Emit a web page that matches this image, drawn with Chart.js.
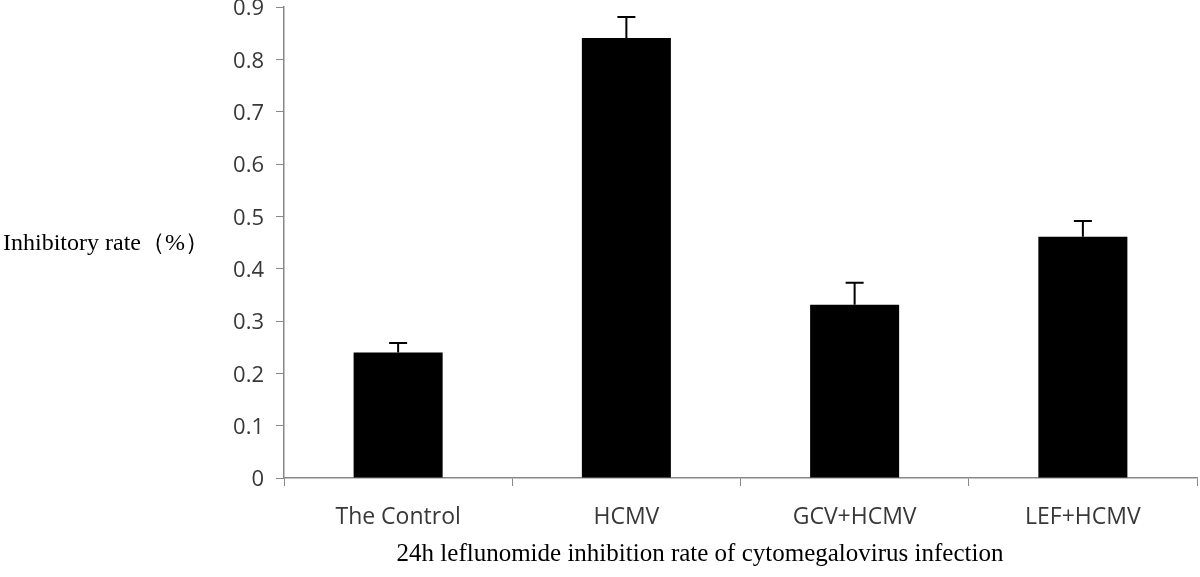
<!DOCTYPE html>
<html><head><meta charset="utf-8">
<script src="https://cdn.jsdelivr.net/npm/chart.js@4/dist/chart.umd.min.js"></script>
<style>html,body{margin:0;padding:0;background:#fff}#wrap{width:1200px;height:577px}</style>
</head><body><div id="wrap"><canvas id="c"></canvas></div>
<script>
const categories = ["The Control", "HCMV", "GCV+HCMV", "LEF+HCMV"];
const values = [0.24, 0.841, 0.331, 0.461];
const errors = [0.018, 0.04, 0.042, 0.03];
const yTicks = [0, 0.1, 0.2, 0.3, 0.4, 0.5, 0.6, 0.7, 0.8, 0.9];
const yTitle = "Inhibitory rate（%）";
const xTitle = "24h leflunomide inhibition rate of cytomegalovirus infection";

const errPlugin = {
  id: 'err',
  afterDatasetsDraw(chart) {
    const ctx = chart.ctx, meta = chart.getDatasetMeta(0), ys = chart.scales.y;
    ctx.save();
    ctx.strokeStyle = '#000'; ctx.lineWidth = 2;
    meta.data.forEach((bar, i) => {
      const top = ys.getPixelForValue(values[i]);
      const e = ys.getPixelForValue(values[i] + errors[i]);
      ctx.beginPath();
      ctx.moveTo(bar.x, top); ctx.lineTo(bar.x, e);
      ctx.moveTo(bar.x - 9, e); ctx.lineTo(bar.x + 9, e);
      ctx.stroke();
    });
    ctx.restore();
  }
};
const titlesPlugin = {
  id: 'titles',
  afterDraw(chart) {
    const ctx = chart.ctx;
    ctx.save();
    ctx.fillStyle = '#000'; ctx.textBaseline = 'middle';
    ctx.font = '24px "Liberation Serif"';
    ctx.textAlign = 'left';
    ctx.fillText(yTitle, 3, 244);
    ctx.font = '25px "Liberation Serif"';
    ctx.textAlign = 'center';
    ctx.fillText(xTitle, 700, 554);
    ctx.restore();
  }
};

new Chart(document.getElementById('c'), {
  type: 'bar',
  data: { labels: categories, datasets: [{ data: values, backgroundColor: '#000', borderWidth: 0, barPercentage: 0.39, categoryPercentage: 1 }] },
  plugins: [errPlugin, titlesPlugin],
  options: {
    responsive: true, maintainAspectRatio: false, animation: false,
    layout: { padding: { top: 7, right: 3, left: 0, bottom: 0 } },
    plugins: { legend: { display: false }, tooltip: { enabled: false } },
    scales: {
      x: {
        afterFit(s) { s.height = 99; s.paddingLeft = 0; s.paddingRight = 0; },
        grid: { display: true, drawOnChartArea: false, offset: true, tickLength: 8, color: '#888', lineWidth: 1 },
        border: { color: '#888', width: 1.5 },
        ticks: { color: '#383838', font: { family: 'Open Sans', size: 23 }, padding: 18 }
      },
      y: {
        min: 0, max: 0.9,
        afterFit(s) { s.width = 284; s.paddingTop = 0; s.paddingBottom = 0; },
        afterBuildTicks(s) { s.ticks = yTicks.map(v => ({ value: v })); },
        grid: { display: true, drawOnChartArea: false, tickLength: 8, color: '#888', lineWidth: 1 },
        border: { color: '#888', width: 1.5 },
        ticks: { color: '#383838', font: { family: 'Open Sans', size: 22 }, padding: 12, labelOffset: 2, callback: v => String(v) }
      }
    }
  }
});
</script></body></html>
